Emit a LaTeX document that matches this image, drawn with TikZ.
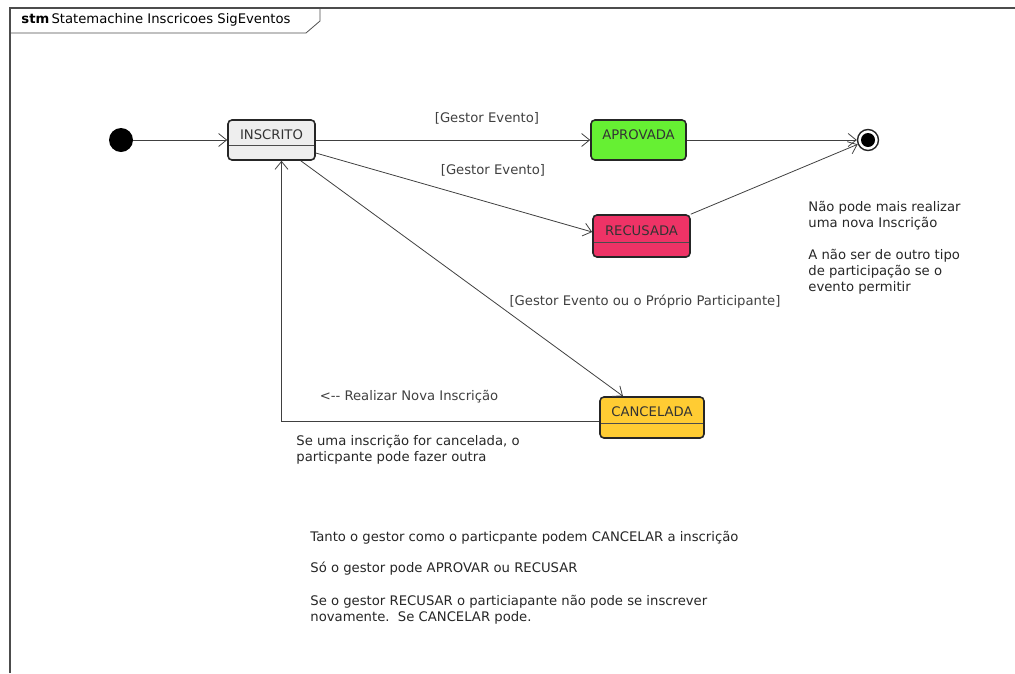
\documentclass[tikz,border=0pt]{standalone}
\usepackage{fontspec}
\setmainfont{DejaVu Sans}
\usetikzlibrary{arrows.meta,positioning,shapes}

\begin{document}
\begin{tikzpicture}[x=1pt, y=1pt, font=\fontsize{13.2}{16}\selectfont, thick]

   \tikzstyle{state}=[rectangle, rounded corners=4pt, line width=1.6pt, draw=black!85, text=black!80, minimum height=40pt, text height=13pt, text depth=15pt, inner ysep=6pt, inner xsep=0pt]
   \tikzstyle{comp}=[path picture={\draw[line width=0.8pt, black!70] ([yshift=15pt]path picture bounding box.south west) -- ([yshift=15pt]path picture bounding box.south east);}]
   \tikzstyle{trans}=[-{Straight Barb[length=8pt, width=13pt]}, line width=0.8pt, draw=black!75]
   \tikzstyle{guard}=[text=black!75]
   \tikzstyle{note}=[align=left, anchor=north west, inner sep=0pt, text=black!85]

   \definecolor{inscr}{HTML}{EEEEEE}
   \definecolor{aprov}{HTML}{66F033}
   \definecolor{recus}{HTML}{EE3366}
   \definecolor{cancel}{HTML}{FFCC33}

   \useasboundingbox (0,0) rectangle (1015,-673);

   % frame
   \draw[line width=1.3pt, black!70] (10,-673) -- (10,-8) -- (1015,-8);
   \draw[line width=0.8pt, black!70] (10,-33) -- (306,-33) -- (320,-21) -- (320,-8);
   \node[anchor=west, inner sep=0pt] (title) at (21,-20) {\fontsize{13.2}{15}\selectfont\textbf{stm}\,Statemachine Inscricoes SigEventos};

   % states
   \node[circle, fill=black, minimum size=24pt, inner sep=0pt] (init) at (121,-140) {};
   \node[state, comp, fill=inscr, minimum width=87pt] (ins) at (271.5,-140) {INSCRITO};
   \node[state, fill=aprov, minimum width=95pt] (apr) at (638.5,-140) {APROVADA};
   \node[state, comp, fill=recus, minimum width=97pt, minimum height=42pt] (rec) at (641.5,-236) {RECUSADA};
   \node[state, comp, fill=cancel, minimum width=104pt, minimum height=41pt] (can) at (652,-417.5) {CANCELADA};
   \node[circle, draw=black!85, line width=1.4pt, minimum size=21pt, inner sep=0pt] (fin) at (868,-140) {};
   \fill[black] (fin.center) circle (7pt);

   % transitions
   \draw[trans] (init) -- (ins);
   \draw[trans] (ins) -- (apr);
   \draw[trans] ([yshift=-13pt]ins.east) -- ([yshift=4pt]rec.west);
   \draw[trans] ([xshift=-15pt]ins.south east) -- ([xshift=-29pt]can.north);
   \draw[trans] (apr) -- (fin.west);
   \draw[trans] (rec.north east) -- (fin);
   \draw[trans] ([yshift=-4pt]can.west) -| ([xshift=10pt]ins.south);

   % guards
   \node[guard] (g1) at (487,-118) {[Gestor Evento]};
   \node[guard] (g2) at (493,-170) {[Gestor Evento]};
   \node[guard] (g3) at (645,-302) {[Gestor Evento ou o Próprio Participante]};
   \node[guard] (g4) at (409,-397) {<{-}{-} Realizar Nova Inscrição};

   % notes
   \node[note] (n1) at (296,-435) {Se uma inscrição for cancelada, o\\particpante pode fazer outra};
   \node[note] (n2) at (808,-201) {Não pode mais realizar\\uma nova Inscrição\\[16pt]A não ser de outro tipo\\de participação se o\\evento permitir};
   \node[note] (n3) at (310,-531) {Tanto o gestor como o particpante podem CANCELAR a inscrição\\[15pt]Só o gestor pode APROVAR ou RECUSAR\\[17pt]Se o gestor RECUSAR o particiapante não pode se inscrever\\novamente.\ \ Se CANCELAR pode.};

\end{tikzpicture}
\end{document}
